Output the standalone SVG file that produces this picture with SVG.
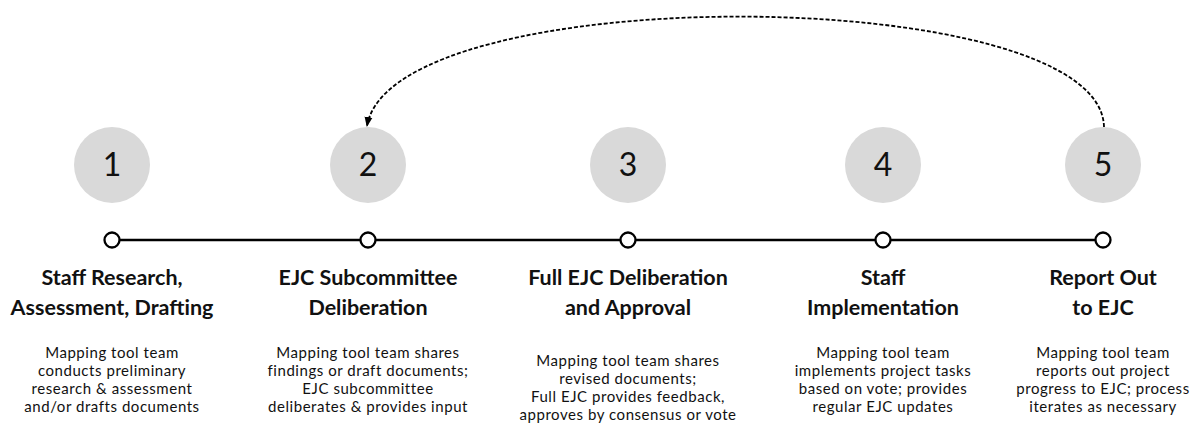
<svg xmlns="http://www.w3.org/2000/svg" width="1200" height="427" viewBox="0 0 1200 427">
<style>
.num{fill:#d9d9d9}
.numt{font-family:Lato,"Liberation Sans",sans-serif;font-size:32px;fill:#111;text-anchor:middle}
.dot{fill:#fff;stroke:#000;stroke-width:2.3}
.title{font-family:Lato,"Liberation Sans",sans-serif;font-size:21.5px;font-weight:bold;fill:#111;text-anchor:middle}
.desc{font-family:Lato,"Liberation Sans",sans-serif;font-size:15px;letter-spacing:0.55px;fill:#111;text-anchor:middle}
</style>
<defs>
<marker id="ah" markerWidth="12" markerHeight="12" refX="9" refY="5" orient="auto" markerUnits="userSpaceOnUse">
<path d="M0,1 L10,5 L0,9 z" fill="#000"/>
</marker>
</defs>
<g id="connectors">
<line x1="112" y1="240" x2="1103" y2="240" stroke="#000" stroke-width="2.5"/>
<path d="M1104,127 C1101,-18 392,-22 367,126" fill="none" stroke="#000" stroke-width="1.8" stroke-dasharray="4,2" marker-end="url(#ah)"/>
</g>
<g id="node1">
<circle class="num" cx="112" cy="165" r="38"/><text class="numt" x="112" y="176">1</text>
<circle class="dot" cx="112" cy="240" r="7.5"/>
<text class="title" x="112" y="285">Staff Research,</text>
<text class="title" x="112" y="315">Assessment, Drafting</text>
<text class="desc" x="112" y="358">Mapping tool team</text>
<text class="desc" x="112" y="376">conducts preliminary</text>
<text class="desc" x="112" y="394">research &amp; assessment</text>
<text class="desc" x="112" y="412">and/or drafts documents</text>
</g>
<g id="node2">
<circle class="num" cx="368" cy="165" r="38"/><text class="numt" x="368" y="176">2</text>
<circle class="dot" cx="368" cy="240" r="7.5"/>
<text class="title" x="368" y="285">EJC Subcommittee</text>
<text class="title" x="368" y="315">Deliberation</text>
<text class="desc" x="368" y="358">Mapping tool team shares</text>
<text class="desc" x="368" y="376">findings or draft documents;</text>
<text class="desc" x="368" y="394">EJC subcommittee</text>
<text class="desc" x="368" y="412">deliberates &amp; provides input</text>
</g>
<g id="node3">
<circle class="num" cx="628" cy="165" r="38"/><text class="numt" x="628" y="176">3</text>
<circle class="dot" cx="628" cy="240" r="7.5"/>
<text class="title" x="628" y="285">Full EJC Deliberation</text>
<text class="title" x="628" y="315">and Approval</text>
<text class="desc" x="628" y="366">Mapping tool team shares</text>
<text class="desc" x="628" y="384">revised documents;</text>
<text class="desc" x="628" y="402">Full EJC provides feedback,</text>
<text class="desc" x="628" y="420">approves by consensus or vote</text>
</g>
<g id="node4">
<circle class="num" cx="883" cy="165" r="38"/><text class="numt" x="883" y="176">4</text>
<circle class="dot" cx="883" cy="240" r="7.5"/>
<text class="title" x="883" y="285">Staff</text>
<text class="title" x="883" y="315">Implementation</text>
<text class="desc" x="883" y="358">Mapping tool team</text>
<text class="desc" x="883" y="376">implements project tasks</text>
<text class="desc" x="883" y="394">based on vote; provides</text>
<text class="desc" x="883" y="412">regular EJC updates</text>
</g>
<g id="node5">
<circle class="num" cx="1103" cy="165" r="38"/><text class="numt" x="1103" y="176">5</text>
<circle class="dot" cx="1103" cy="240" r="7.5"/>
<text class="title" x="1103" y="285">Report Out</text>
<text class="title" x="1103" y="315">to EJC</text>
<text class="desc" x="1103" y="358">Mapping tool team</text>
<text class="desc" x="1103" y="376">reports out project</text>
<text class="desc" x="1103" y="394">progress to EJC; process</text>
<text class="desc" x="1103" y="412">iterates as necessary</text>
</g>
</svg>
